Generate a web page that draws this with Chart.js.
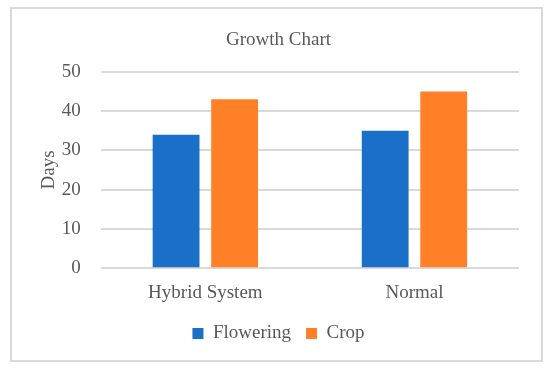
<!DOCTYPE html>
<html>
<head>
<meta charset="utf-8">
<script src="https://cdn.jsdelivr.net/npm/chart.js@4"></script>
<style>
  html, body { margin: 0; padding: 0; background: #fff; }
  #frame {
    position: absolute; left: 10px; top: 7px;
    width: 529px; height: 351px;
    border: 2px solid #d9d9d9; background: #fff;
  }
  #frame canvas { display: block; }
</style>
</head>
<body>
<div id="frame"><canvas id="growth-chart" width="529" height="351"></canvas></div>
<script>
const categories = ["Hybrid System", "Normal"];
const flowering = [34, 35];
const crop = [43, 45];
const yTicks = [0, 10, 20, 30, 40, 50];

const textColor = "#595959";
const fontFamily = "'Liberation Serif', 'Times New Roman', serif";

let canvas = document.getElementById("growth-chart");
window.chartGrowth = new Chart(canvas, {
    type: "bar",
    data: {
        labels: categories,
        datasets: [
            {
                label: "Flowering",
                data: flowering,
                backgroundColor: "rgb(26, 112, 200)",
                borderWidth: 0,
            },
            {
                label: "Crop",
                data: crop,
                backgroundColor: "rgb(255, 128, 38)",
                borderWidth: 0,
            },
        ],
    },
    options: {
        responsive: false,
        animation: false,
        layout: { padding: { left: 26, right: 22, top: 0, bottom: 7 } },
        datasets: {
            bar: { categoryPercentage: 0.56, barPercentage: 0.8 },
        },
        scales: {
            x: {
                grid: { display: false },
                border: { display: false },
                ticks: {
                    color: textColor,
                    font: { family: fontFamily, size: 19 },
                    padding: 5,
                },
            },
            y: {
                min: 0,
                max: 50,
                afterBuildTicks: function (axis) {
                    axis.ticks = yTicks.map(function (v) { return { value: v }; });
                },
                grid: { color: "#d9d9d9", lineWidth: 2, drawTicks: false },
                border: { display: false },
                ticks: {
                    color: textColor,
                    font: { family: fontFamily, size: 19 },
                    padding: 20,
                },
                title: {
                    display: true,
                    text: "Days",
                    color: textColor,
                    font: { family: fontFamily, size: 19 },
                    padding: { top: 0, bottom: -19 },
                },
            },
        },
        plugins: {
            title: {
                display: true,
                text: "Growth Chart",
                color: textColor,
                font: { family: fontFamily, size: 19, weight: "normal" },
                padding: { top: 20, bottom: 20 },
            },
            legend: {
                position: "bottom",
                labels: {
                    color: textColor,
                    font: { family: fontFamily, size: 19 },
                    boxWidth: 11,
                    boxHeight: 11,
                    padding: 15,
                },
            },
            tooltip: { enabled: false },
        },
    },
});
</script>
</body>
</html>
